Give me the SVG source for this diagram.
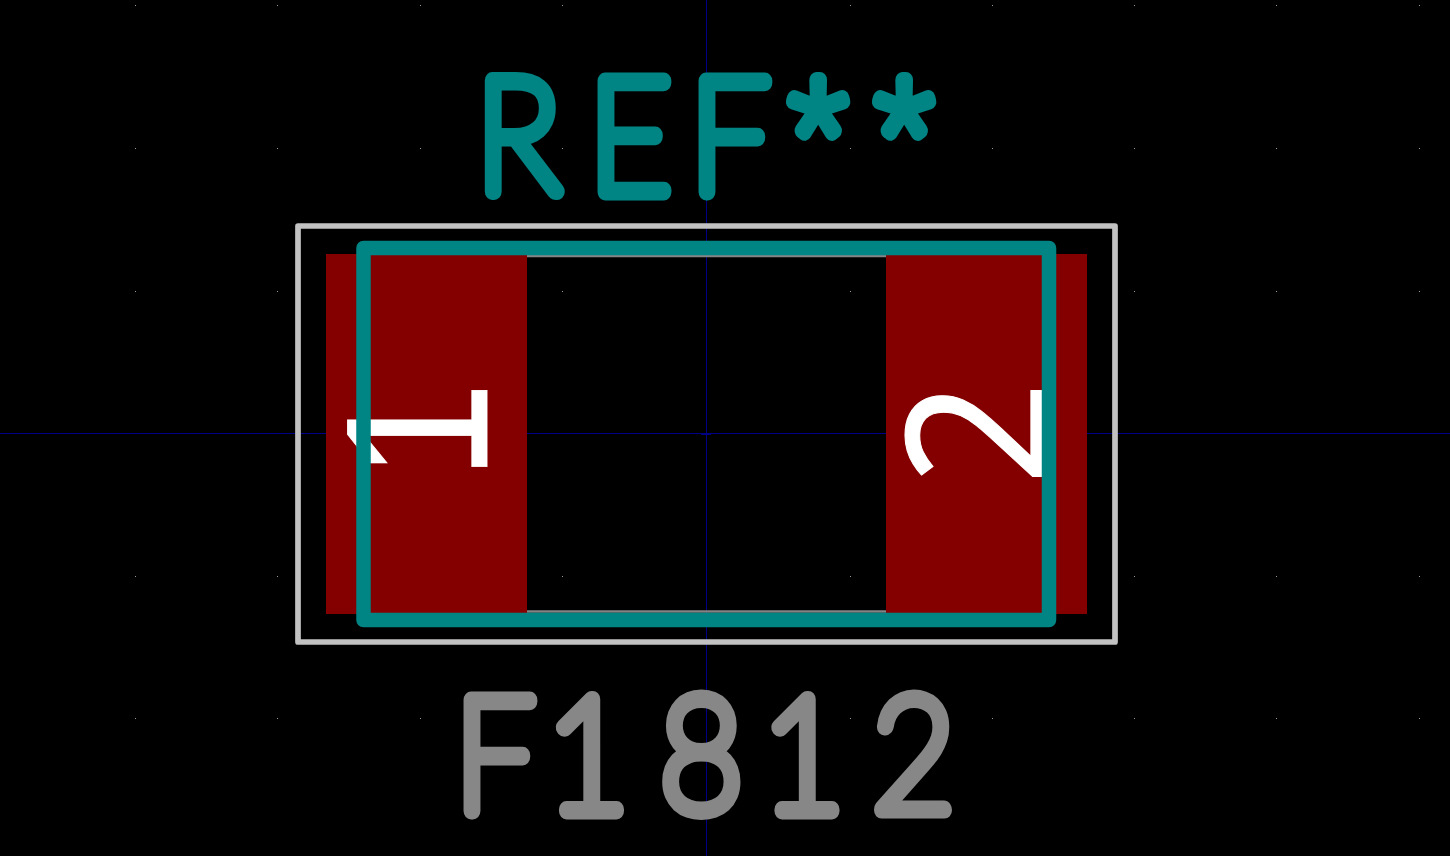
<svg xmlns="http://www.w3.org/2000/svg" width="1450" height="856" viewBox="0 0 1450 856">
<style>
.axis{stroke:#000084;stroke-width:1;fill:none}
.pad{fill:#840000}
.fab{stroke:#848484;stroke-width:2.5;fill:none}
.crt{stroke:#c2c2c2;stroke-width:5.7;fill:none;stroke-linejoin:round}
.silk{stroke:#008484;stroke-width:14.5;fill:none;stroke-linejoin:round}
.num{font-family:"Liberation Sans",sans-serif;font-size:203px;fill:#fff;stroke:#fff;stroke-width:.8}
.num2{font-family:"Noto Sans",sans-serif;font-size:196px;fill:#fff;stroke:#fff;stroke-width:1}
.big{font-family:"Lato",sans-serif;font-weight:100;font-size:159.300px;stroke-width:16;stroke-linejoin:round;stroke-linecap:round;vector-effect:non-scaling-stroke}
.star{font-family:"Noto Sans",sans-serif;font-weight:100;font-size:132px}
</style>
<rect width="1450" height="856" fill="#000"/>
<g id="grid" fill="#9a9a9a">
<path d="M135 5h1v1h-1zM277 5h1v1h-1zM420 5h1v1h-1zM562 5h1v1h-1zM850 5h1v1h-1zM992 5h1v1h-1zM1134 5h1v1h-1zM1276 5h1v1h-1zM1419 5h1v1h-1z"/>
<path d="M135 148h1v1h-1zM277 148h1v1h-1zM420 148h1v1h-1zM562 148h1v1h-1zM850 148h1v1h-1zM992 148h1v1h-1zM1134 148h1v1h-1zM1276 148h1v1h-1zM1419 148h1v1h-1z"/>
<path d="M135 291h1v1h-1zM277 291h1v1h-1zM420 291h1v1h-1zM562 291h1v1h-1zM850 291h1v1h-1zM992 291h1v1h-1zM1134 291h1v1h-1zM1276 291h1v1h-1zM1419 291h1v1h-1z"/>
<path d="M135 433h1v1h-1zM277 433h1v1h-1zM562 433h1v1h-1zM850 433h1v1h-1zM1134 433h1v1h-1zM1276 433h1v1h-1zM1419 433h1v1h-1z"/>
<path d="M135 576h1v1h-1zM277 576h1v1h-1zM420 576h1v1h-1zM562 576h1v1h-1zM850 576h1v1h-1zM992 576h1v1h-1zM1134 576h1v1h-1zM1276 576h1v1h-1zM1419 576h1v1h-1z"/>
<path d="M135 718h1v1h-1zM277 718h1v1h-1zM420 718h1v1h-1zM562 718h1v1h-1zM850 718h1v1h-1zM992 718h1v1h-1zM1134 718h1v1h-1zM1276 718h1v1h-1zM1419 718h1v1h-1z"/>
</g>
<g id="axes">
<line class="axis" x1="706.5" y1="0" x2="706.5" y2="856"/>
<line class="axis" x1="0" y1="433.5" x2="1450" y2="433.5"/>
<line class="axis" x1="701" y1="434.5" x2="711" y2="434.5"/>
</g>
<g id="fab"><path class="fab" d="M527 256H886M527 611.500H886"/></g>
<g id="pad1"><rect class="pad" x="326" y="254" width="201" height="360"/><text class="num" transform="translate(487,431) rotate(-90) scale(.87,1)" text-anchor="middle" y="0">1</text></g>
<g id="pad2"><rect class="pad" x="886" y="254" width="201" height="360"/><text class="num2" transform="translate(1047,433) rotate(-90) scale(.93,1)" text-anchor="middle" y="0">2</text></g>
<g id="courtyard"><rect class="crt" x="298" y="226" width="817" height="416"/></g>
<g id="silk"><rect class="silk" x="363.500" y="248" width="685.500" height="372"/></g>
<g id="reference"><text class="big" transform="scale(.9,1)" fill="#008484" stroke="#008484" y="192.500" x="528.500 654 766">REF<tspan class="star" x="873.100 968.600" y="180">**</tspan></text></g>
<g id="value"><text class="big" transform="scale(.9,1)" fill="#878787" stroke="#878787" y="811.500" x="505 607 733 846.300 969">F1812</text></g>
</svg>
